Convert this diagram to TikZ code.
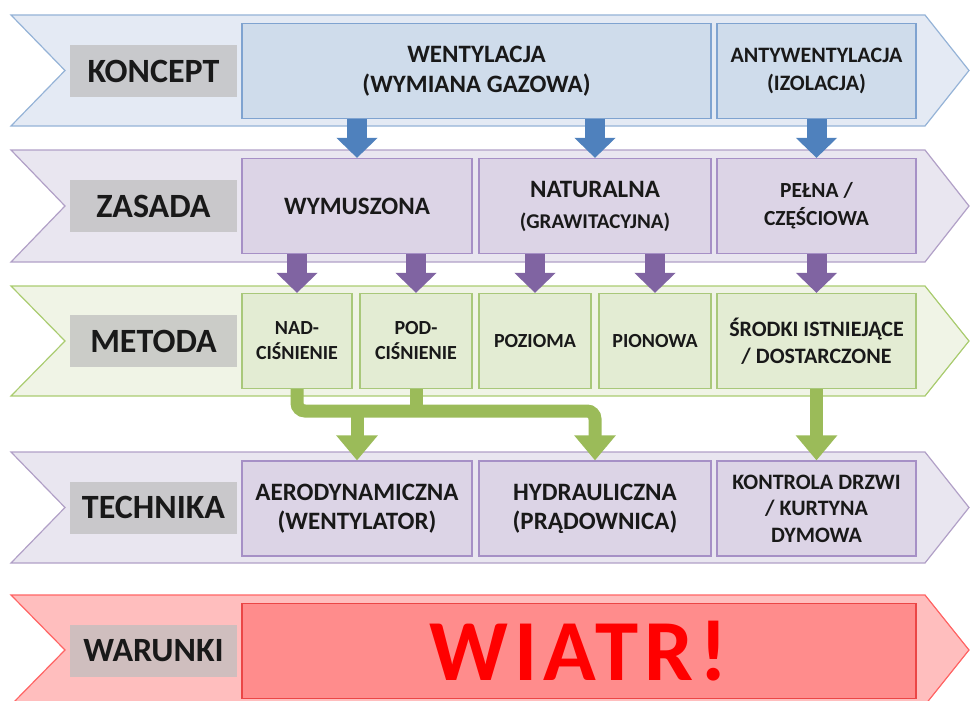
\documentclass[tikz,border=0pt]{standalone}
\usepackage{fontspec}
\setmainfont{Carlito}
\usetikzlibrary{arrows.meta}

\definecolor{pasekniebieski}{RGB}{228,234,244}
\definecolor{brzegniebieski}{RGB}{149,179,215}
\definecolor{blokniebieski}{RGB}{207,220,235}
\definecolor{ramkaniebieska}{RGB}{127,163,208}
\definecolor{strzalkaniebieska}{RGB}{79,129,189}
\definecolor{paseklila}{RGB}{233,230,240}
\definecolor{brzeglila}{RGB}{177,160,199}
\definecolor{bloklila}{RGB}{220,212,230}
\definecolor{ramkalila}{RGB}{166,144,198}
\definecolor{strzalkalila}{RGB}{128,100,162}
\definecolor{pasekzielony}{RGB}{240,244,230}
\definecolor{brzegzielony}{RGB}{170,204,112}
\definecolor{blokzielony}{RGB}{227,236,211}
\definecolor{ramkazielona}{RGB}{169,200,122}
\definecolor{strzalkazielona}{RGB}{155,187,89}
\definecolor{pasekczerwony}{RGB}{255,190,190}
\definecolor{brzegczerwony}{RGB}{255,100,100}
\definecolor{blokczerwony}{RGB}{255,140,140}
\definecolor{ramkaczerwona}{RGB}{235,70,70}

\begin{document}
\begin{tikzpicture}[x=1pt, y=-1pt,
        every node/.style={font=\bfseries, text=black!90},
        pasek/.style={line width=1.2pt},
        etykieta/.style={fill=black!25, fill opacity=0.75, text opacity=1, minimum width=167pt,
            minimum height=52pt, inner sep=0pt, font=\bfseries\fontsize{34}{36}\selectfont},
        blok/.style={draw, line width=1.2pt, align=center, inner sep=0pt, minimum height=95pt},
        niebieski/.style={blok, fill=blokniebieski, draw=ramkaniebieska},
        lila/.style={blok, fill=bloklila, draw=ramkalila},
        zielony/.style={blok, fill=blokzielony, draw=ramkazielona},
        strzn/.style={line width=20pt, draw=strzalkaniebieska, -{Triangle[width=40pt,length=20pt]}},
        strzl/.style={line width=20pt, draw=strzalkalila, -{Triangle[width=40pt,length=20pt]}},
        strzz/.style={line width=13pt, draw=strzalkazielona, -{Triangle[width=40pt,length=25pt]}},
        liniaz/.style={line width=13pt, draw=strzalkazielona}
    ]
        \useasboundingbox (0,0) rectangle (970,701);

        % Paski (strzałki w tle)
        \draw[pasek, fill=pasekniebieski, draw=brzegniebieski] (11,15) -- (925,15) -- (969,70.5) -- (925,126) -- (11,126) -- (65,70.5) -- cycle;
        \draw[pasek, fill=paseklila, draw=brzeglila] (11,150) -- (925,150) -- (969,206) -- (925,262) -- (11,262) -- (65,206) -- cycle;
        \draw[pasek, fill=pasekzielony, draw=brzegzielony] (11,286) -- (925,286) -- (969,341) -- (925,396) -- (11,396) -- (65,341) -- cycle;
        \draw[pasek, fill=paseklila, draw=brzeglila] (11,452) -- (925,452) -- (969,507.5) -- (925,563) -- (11,563) -- (65,507.5) -- cycle;
        \draw[pasek, fill=pasekczerwony, draw=brzegczerwony] (11,595) -- (925,595) -- (969,650) -- (925,705) -- (11,705) -- (65,650) -- cycle;

        % Etykiety poziomów
        \node[etykieta] (koncept) at (153.5,71) {KONCEPT};
        \node[etykieta] (zasada) at (153.5,206) {ZASADA};
        \node[etykieta] (metoda) at (153.5,341) {METODA};
        \node[etykieta] (technika) at (153.5,507.5) {TECHNIKA};
        \node[etykieta] (warunki) at (153.5,651) {WARUNKI};

        % Koncept
        \node[niebieski, minimum width=469pt, font=\bfseries\fontsize{25}{30}\selectfont] (went) at (476.5,71) {WENTYLACJA\\(WYMIANA GAZOWA)};
        \node[niebieski, minimum width=199pt, font=\bfseries\fontsize{22}{28}\selectfont] (anty) at (816.5,71) {ANTYWENTYLACJA\\(IZOLACJA)};

        % Zasada
        \node[lila, minimum width=230pt, font=\bfseries\fontsize{25}{28}\selectfont] (wym) at (357,206) {WYMUSZONA};
        \node[lila, minimum width=232pt, font=\bfseries\fontsize{25}{31}\selectfont] (nat) at (595,206) {NATURALNA\\{\fontsize{21}{31}\selectfont(GRAWITACYJNA)}};
        \node[lila, minimum width=199pt, font=\bfseries\fontsize{21.5}{28}\selectfont] (pel) at (816.5,206) {PEŁNA /\\CZĘŚCIOWA};

        % Metoda
        \node[zielony, minimum width=110pt, font=\bfseries\fontsize{20}{25}\selectfont] (nad) at (297,341) {NAD-\\CIŚNIENIE};
        \node[zielony, minimum width=112pt, font=\bfseries\fontsize{20}{25}\selectfont] (pod) at (416,341) {POD-\\CIŚNIENIE};
        \node[zielony, minimum width=112pt, font=\bfseries\fontsize{20}{25}\selectfont] (poz) at (535,341) {POZIOMA};
        \node[zielony, minimum width=112pt, font=\bfseries\fontsize{20}{25}\selectfont] (pio) at (655,341) {PIONOWA};
        \node[zielony, minimum width=199pt, font=\bfseries\fontsize{22}{27}\selectfont] (sro) at (816.5,341) {ŚRODKI ISTNIEJĄCE\\/ DOSTARCZONE};

        % Technika
        \node[lila, minimum width=230pt, font=\bfseries\fontsize{25}{29}\selectfont] (aer) at (357,508.5) {AERODYNAMICZNA\\(WENTYLATOR)};
        \node[lila, minimum width=232pt, font=\bfseries\fontsize{25}{29}\selectfont] (hyd) at (595,508.5) {HYDRAULICZNA\\(PRĄDOWNICA)};
        \node[lila, minimum width=199pt, font=\bfseries\fontsize{22}{26.5}\selectfont] (kon) at (816.5,508.5) {KONTROLA DRZWI\\/ KURTYNA\\DYMOWA};

        % Warunki
        \node[blok, fill=blokczerwony, draw=ramkaczerwona, minimum width=674pt, text=red,
            font=\bfseries\fontsize{87}{90}\selectfont\addfontfeature{LetterSpace=7}] (wiatr) at (579,651) {WIATR!};

        % Strzałki
        \draw[strzn] (went.south -| wym.north) -- (wym.north);
        \draw[strzn] (went.south -| nat.north) -- (nat.north);
        \draw[strzn] (anty.south) -- (pel.north);
        \draw[strzl] (wym.south -| nad.north) -- (nad.north);
        \draw[strzl] (wym.south -| pod.north) -- (pod.north);
        \draw[strzl] (nat.south -| poz.north) -- (poz.north);
        \draw[strzl] (nat.south -| pio.north) -- (pio.north);
        \draw[strzl] (pel.south) -- (sro.north);
        \coordinate (szyna) at (0,411);
        \draw[strzz, rounded corners=8pt] (nad.south) |- (szyna -| hyd.north) -- (hyd.north);
        \draw[liniaz] (pod.south) -- (szyna -| pod.south);
        \draw[strzz] (szyna -| aer.north) -- (aer.north);
        \draw[strzz] (sro.south) -- (kon.north);
\end{tikzpicture}
\end{document}
